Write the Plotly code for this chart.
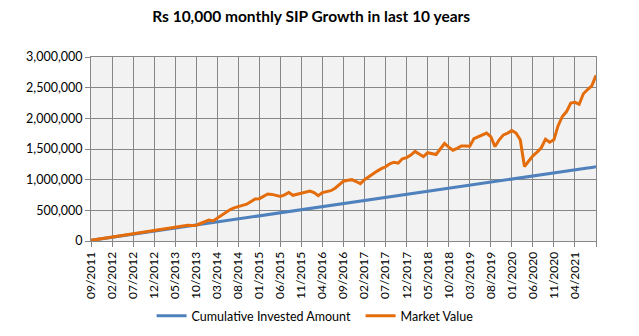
import plotly.graph_objects as go

# Monthly SIP instalments: 09/2011 through 09/2021
months = [f"{(8 + i) % 12 + 1:02d}/{2011 + (8 + i) // 12}" for i in range(121)]

monthly_sip = 10000
invested = [monthly_sip * (i + 1) for i in range(len(months))]

market_value = [
    10000, 20500, 31500, 43000, 56000, 68000, 77000, 88000, 98000, 110000,
    118000, 128000, 140000, 152000, 160000, 172000, 185000, 200000, 212000, 215000,
    222000, 238000, 250000, 255000, 252000, 258000, 285000, 318000, 340000, 326000,
    372000, 420000, 455000, 510000, 540000, 565000, 580000, 600000, 645000, 685000,
    690000, 728000, 766000, 760000, 740000, 728000, 752000, 790000, 745000, 760000,
    775000, 795000, 815000, 790000, 738000, 790000, 805000, 820000, 860000, 920000,
    975000, 990000, 1000000, 970000, 935000, 1000000, 1050000, 1100000, 1140000, 1180000,
    1210000, 1260000, 1285000, 1270000, 1340000, 1360000, 1400000, 1460000, 1420000, 1375000,
    1440000, 1425000, 1410000, 1500000, 1590000, 1530000, 1480000, 1510000, 1550000, 1550000,
    1545000, 1670000, 1700000, 1720000, 1760000, 1700000, 1540000, 1650000, 1730000, 1760000,
    1800000, 1760000, 1650000, 1215000, 1310000, 1390000, 1450000, 1520000, 1660000, 1610000,
    1650000, 1880000, 2030000, 2110000, 2250000, 2260000, 2230000, 2400000, 2470000, 2530000,
    2700000,
]

# Category ticks every five months; the final tick carries no label
tick_vals = months[::5]
tick_text = [m if i < len(tick_vals) - 1 else "" for i, m in enumerate(tick_vals)]

series_names = ["Cumulative Invested Amount", "Market Value"]
series_colors = ["#4F81BD", "#E46C0A"]

grid = "#878787"
font_family = "Lato, Open Sans, sans-serif"

fig = go.Figure()
for name, ys, color in zip(series_names, [invested, market_value], series_colors):
    fig.add_trace(go.Scatter(
        x=months, y=ys, name=name, mode="lines",
        line=dict(color=color, width=3),
    ))

fig.update_layout(
    width=639, height=336,
    margin=dict(l=91, r=43, t=57, b=95, autoexpand=False),
    paper_bgcolor="white",
    plot_bgcolor="#F2F2F2",
    font=dict(family=font_family, size=12, color="#000000"),
    title=dict(
        text="<b>Rs 10,000 monthly SIP Growth in last 10 years</b>",
        x=0.487, xanchor="center", xref="container",
        y=1 - 17 / 336, yanchor="middle",
        font=dict(family=font_family, size=15.5, color="#000000"),
    ),
    legend=dict(
        orientation="h",
        x=0.12, xanchor="left",
        y=-75 / 184, yanchor="middle",
        font=dict(size=12.5),
        bgcolor="rgba(0,0,0,0)",
        entrywidth=164,
    ),
    showlegend=True,
)

fig.update_xaxes(
    type="category",
    range=[0, len(months) - 1],
    tickmode="array", tickvals=tick_vals, ticktext=tick_text,
    tickangle=-90,
    showgrid=True, gridcolor=grid, gridwidth=1,
    showline=True, linecolor=grid, linewidth=1, mirror=True,
    ticks="outside", ticklen=5, tickcolor=grid,
    tickfont=dict(size=12),
    zeroline=False, automargin=False,
)
fig.update_yaxes(
    range=[0, 3000000], dtick=500000, tickformat=",",
    showgrid=True, gridcolor=grid, gridwidth=1,
    showline=True, linecolor=grid, linewidth=1, mirror=True,
    ticks="outside", ticklen=5, tickcolor=grid,
    tickfont=dict(size=12.5),
    zeroline=False, automargin=False,
)

fig.write_html("out.html")
